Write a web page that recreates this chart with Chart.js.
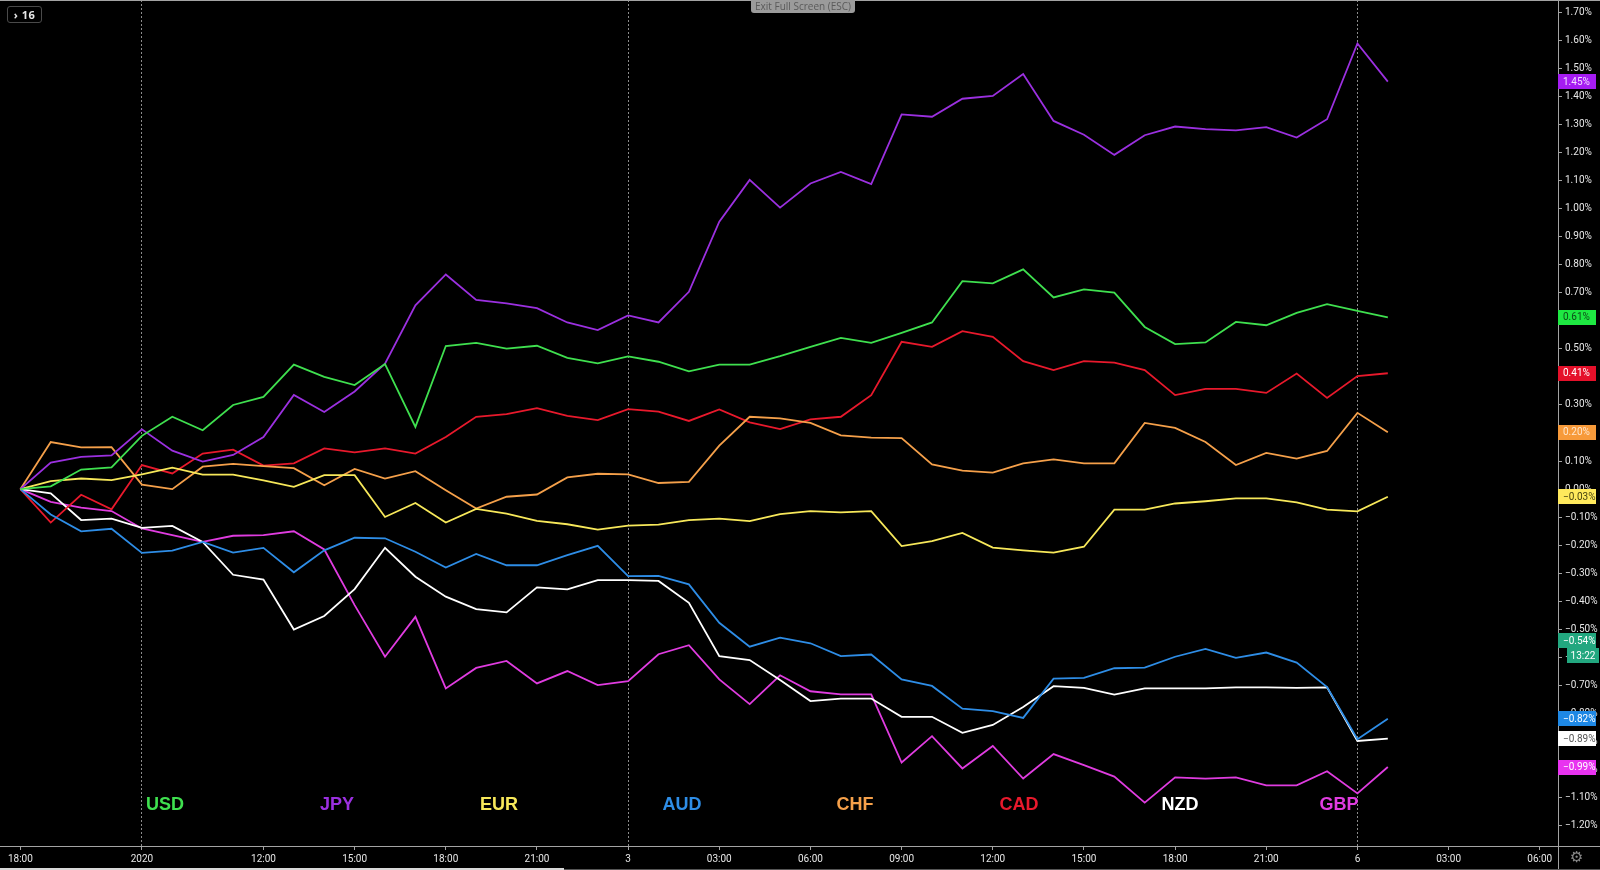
<!DOCTYPE html>
<html>
<head>
<meta charset="utf-8">
<title>Currency strength</title>
<script src="https://cdn.jsdelivr.net/npm/chart.js@4.4.0/dist/chart.umd.min.js"></script>
<style>
  html, body { margin: 0; padding: 0; background: #000; }
  #wrap { position: relative; width: 1600px; height: 870px; overflow: hidden; background: #000; }
  #chart { position: absolute; left: 0; top: 0; width: 1600px; height: 870px; }
  .ccy { position: absolute; top: 794px; transform: translateX(-50%); font: bold 18px 'Liberation Sans', Arial, sans-serif; white-space: nowrap; }
  #intervals { position: absolute; left: 7px; top: 6px; width: 33px; height: 15px; border: 1px solid #4a4a4a; border-radius: 3px;
               color: #e8e8e8; font: bold 11px 'Open Sans', sans-serif; line-height: 15px; text-align: center; letter-spacing: 0.5px; }
  #exitFs { position: absolute; left: 751px; top: 0; width: 104px; height: 13px; background: #9b9b9b; border-radius: 0 0 3px 3px;
            color: #5a5a5a; font: 10px 'Open Sans', sans-serif; line-height: 13px; text-align: center; }
  #gear { position: absolute; left: 1570px; top: 848px; color: #8a8a8a; font: 15px 'DejaVu Sans', sans-serif; }
  #scrollA { position: absolute; left: 0; top: 868px; width: 564px; height: 2px; background: #d8d8d8; }
  #scrollB { position: absolute; left: 564px; top: 869px; width: 1036px; height: 1px; background: #555; }
</style>
</head>
<body>
<div id="wrap">
  <canvas id="chart" width="1600" height="870"></canvas>
  <div id="intervals">&#8250; 16</div>
  <div id="exitFs">Exit Full Screen (ESC)</div>
  <div class="ccy" style="left:165px;color:#3fe04f">USD</div>
  <div class="ccy" style="left:337px;color:#9b30e0">JPY</div>
  <div class="ccy" style="left:499px;color:#f7e85a">EUR</div>
  <div class="ccy" style="left:682px;color:#2e8de6">AUD</div>
  <div class="ccy" style="left:855px;color:#f5a04a">CHF</div>
  <div class="ccy" style="left:1019px;color:#e8192c">CAD</div>
  <div class="ccy" style="left:1180px;color:#ffffff">NZD</div>
  <div class="ccy" style="left:1339px;color:#e03ce0">GBP</div>
  <div id="gear">&#9881;</div>
  <div id="scrollA"></div>
  <div id="scrollB"></div>
</div>

<script>
// 통화별 % 변화 (시간봉, 0 = 시작점)
const currencies = ['USD', 'JPY', 'EUR', 'AUD', 'CHF', 'CAD', 'NZD', 'GBP'];

const usd = [0, 0.01, 0.07, 0.078, 0.19, 0.258, 0.21, 0.30, 0.329, 0.444, 0.40, 0.371, 0.446, 0.222, 0.51, 0.521,
             0.501, 0.511, 0.468, 0.448, 0.473, 0.454, 0.42, 0.444, 0.444, 0.474, 0.507, 0.539, 0.521, 0.557, 0.594,
             0.741, 0.733, 0.783, 0.683, 0.712, 0.70, 0.578, 0.517, 0.523, 0.596, 0.584, 0.628, 0.659, 0.635, 0.612];
const jpy = [0, 0.095, 0.115, 0.12, 0.213, 0.137, 0.098, 0.122, 0.186, 0.336, 0.275, 0.348, 0.447, 0.655, 0.765, 0.674,
             0.662, 0.645, 0.594, 0.567, 0.619, 0.594, 0.703, 0.953, 1.102, 1.003, 1.089, 1.13, 1.087, 1.335, 1.327,
             1.391, 1.401, 1.479, 1.312, 1.263, 1.191, 1.261, 1.292, 1.283, 1.278, 1.29, 1.253, 1.318, 1.588, 1.452];
const eur = [0, 0.029, 0.038, 0.032, 0.053, 0.077, 0.052, 0.052, 0.031, 0.008, 0.05, 0.05, -0.099, -0.049, -0.119, -0.07,
             -0.087, -0.113, -0.125, -0.144, -0.13, -0.126, -0.11, -0.105, -0.114, -0.089, -0.078, -0.083, -0.078, -0.203, -0.185,
             -0.156, -0.208, -0.218, -0.226, -0.205, -0.073, -0.073, -0.051, -0.043, -0.033, -0.033, -0.047, -0.073, -0.079, -0.027];
const aud = [0, -0.09, -0.15, -0.141, -0.227, -0.219, -0.188, -0.226, -0.209, -0.296, -0.218, -0.173, -0.175, -0.223, -0.279, -0.231,
             -0.271, -0.271, -0.235, -0.202, -0.31, -0.309, -0.339, -0.476, -0.561, -0.529, -0.549, -0.595, -0.589, -0.678, -0.701,
             -0.782, -0.791, -0.815, -0.675, -0.672, -0.638, -0.636, -0.597, -0.569, -0.601, -0.582, -0.618, -0.705, -0.891, -0.818];
const chf = [0, 0.168, 0.149, 0.15, 0.016, 0.0, 0.08, 0.09, 0.082, 0.075, 0.014, 0.072, 0.038, 0.064, -0.004, -0.069,
             -0.027, -0.019, 0.042, 0.055, 0.053, 0.022, 0.026, 0.155, 0.258, 0.252, 0.236, 0.192, 0.184, 0.182, 0.088,
             0.066, 0.059, 0.092, 0.106, 0.092, 0.092, 0.236, 0.218, 0.168, 0.086, 0.129, 0.109, 0.136, 0.272, 0.203];
const cad = [0, -0.119, -0.02, -0.072, 0.086, 0.056, 0.127, 0.141, 0.084, 0.092, 0.145, 0.131, 0.145, 0.127, 0.186, 0.258,
             0.267, 0.289, 0.261, 0.246, 0.285, 0.276, 0.243, 0.284, 0.238, 0.214, 0.249, 0.258, 0.335, 0.525, 0.507,
             0.563, 0.543, 0.456, 0.424, 0.456, 0.451, 0.424, 0.335, 0.357, 0.357, 0.343, 0.412, 0.325, 0.403, 0.413];
const nzd = [0, -0.015, -0.11, -0.105, -0.138, -0.131, -0.188, -0.305, -0.322, -0.5, -0.452, -0.356, -0.209, -0.312, -0.383, -0.427,
             -0.439, -0.35, -0.357, -0.324, -0.324, -0.327, -0.405, -0.595, -0.609, -0.68, -0.755, -0.746, -0.746, -0.811, -0.811,
             -0.868, -0.84, -0.776, -0.702, -0.708, -0.732, -0.71, -0.71, -0.71, -0.706, -0.706, -0.708, -0.706, -0.897, -0.889];
const gbp = [0, -0.045, -0.066, -0.078, -0.14, -0.164, -0.188, -0.166, -0.164, -0.15, -0.215, -0.413, -0.597, -0.455, -0.71, -0.637,
             -0.612, -0.692, -0.648, -0.698, -0.684, -0.588, -0.556, -0.678, -0.766, -0.663, -0.72, -0.731, -0.731, -0.974, -0.88,
             -0.995, -0.915, -1.031, -0.944, -0.983, -1.024, -1.117, -1.027, -1.031, -1.027, -1.055, -1.055, -1.005, -1.084, -0.99];

// x축 눈금 (봉 인덱스 / 표시 문자)
const xTickPos  = [0, 4, 8, 11, 14, 17, 20, 23, 26, 29, 32, 35, 38, 41, 44, 47, 50];
const xTickText = ['18:00', '2020', '12:00', '15:00', '18:00', '21:00', '3', '03:00', '06:00', '09:00',
                   '12:00', '15:00', '18:00', '21:00', '6', '03:00', '06:00'];
const dayBreaks = [4, 20, 44];

// y축 눈금 (%)
const yTicks = [-1.2, -1.1, -1.0, -0.9, -0.8, -0.7, -0.6, -0.5, -0.4, -0.3, -0.2, -0.1, 0,
                0.1, 0.2, 0.3, 0.4, 0.5, 0.6, 0.7, 0.8, 0.9, 1.0, 1.1, 1.2, 1.3, 1.4, 1.5, 1.6, 1.7];

// 메인 심볼 현재가 / 카운트다운
const mainLast = -0.54;
const mainCountdown = '13:22';

const seriesMap = { USD: usd, JPY: jpy, EUR: eur, AUD: aud, CHF: chf, CAD: cad, NZD: nzd, GBP: gbp };

const lineColors = {
    USD: '#3fe04f', JPY: '#9b30e0', EUR: '#f7e85a', AUD: '#2e8de6',
    CHF: '#f5a04a', CAD: '#e8192c', NZD: '#ffffff', GBP: '#e03ce0'
};
const boxColors = {
    USD: '#1ee842', JPY: '#a51cf2', EUR: '#ffe95c', AUD: '#1e88e5',
    CHF: '#f79a3a', CAD: '#e5102a', NZD: '#ffffff', GBP: '#e833f0'
};
const boxTextColors = {
    USD: '#0d4a17', JPY: '#f4dcff', EUR: '#4a4410', AUD: '#ffffff',
    CHF: '#ffe6cc', CAD: '#ffffff', NZD: '#555555', GBP: '#ffffff'
};

const AXIS_COLOR = '#a3a3a3';
const TICK_FONT = { family: 'Roboto, sans-serif', size: 10 };

function fmtPct(v) {
    const r = Math.round(v * 100) / 100;
    return (r < 0 ? '\u2212' : '') + Math.abs(r).toFixed(2) + '%';
}

function drawBox(ctx, x, y, w, bg, fg, text, center) {
    const h = 15;
    ctx.fillStyle = bg;
    ctx.fillRect(x, Math.round(y - h / 2), w, h);
    ctx.fillStyle = fg;
    ctx.textAlign = center ? 'center' : 'left';
    ctx.fillText(text, center ? x + w / 2 : x + 5, Math.round(y) + 0.5);
}

// 축 테두리 + 오른쪽 가격 라벨
const priceBoxes = {
    id: 'priceBoxes',
    afterDraw(chart) {
        const { ctx, chartArea } = chart;
        const yScale = chart.scales.y;
        ctx.save();
        ctx.strokeStyle = AXIS_COLOR;
        ctx.lineWidth = 1;
        ctx.beginPath();
        ctx.moveTo(0, 0.5); ctx.lineTo(chart.width, 0.5);
        ctx.moveTo(chartArea.right + 0.5, 0); ctx.lineTo(chartArea.right + 0.5, chart.height);
        ctx.moveTo(0, chartArea.bottom + 0.5); ctx.lineTo(chart.width, chartArea.bottom + 0.5);
        ctx.stroke();

        ctx.font = '10px Roboto, sans-serif';
        ctx.textBaseline = 'middle';
        const bx = chartArea.right;

        const mainY = yScale.getPixelForValue(mainLast);
        drawBox(ctx, bx, mainY, 38, '#22a77f', '#ffffff', fmtPct(mainLast), false);
        drawBox(ctx, bx + 9, mainY + 15, 32, '#22a77f', '#ffffff', mainCountdown, true);

        currencies.forEach(c => {
            const data = seriesMap[c];
            const last = data[data.length - 1];
            drawBox(ctx, bx, yScale.getPixelForValue(last), 38, boxColors[c], boxTextColors[c], fmtPct(last), false);
        });
        ctx.restore();
    }
};

function buildDatasets() {
    return currencies.map(c => ({
        label: c,
        data: seriesMap[c].map((v, i) => ({ x: i, y: v })),
        borderColor: lineColors[c],
        borderWidth: 1.8,
        pointRadius: 0,
        tension: 0,
        fill: false
    }));
}

// 축 라벨 때문에 생기는 여백 제거
function noPad(scale) {
    scale.paddingTop = 0;
    scale.paddingBottom = 0;
    scale.paddingLeft = 0;
    scale.paddingRight = 0;
}

new Chart(document.getElementById('chart'), {
    type: 'line',
    data: { datasets: buildDatasets() },
    options: {
        responsive: false,
        animation: false,
        devicePixelRatio: 1,
        layout: { padding: 0 },
        plugins: {
            legend: { display: false },
            tooltip: { enabled: false }
        },
        scales: {
            x: {
                type: 'linear',
                min: -0.67,
                max: 50.6,
                afterFit(scale) { scale.height = 24; noPad(scale); },
                afterBuildTicks(scale) { scale.ticks = xTickPos.map(v => ({ value: v })); },
                ticks: {
                    autoSkip: false,
                    maxRotation: 0,
                    padding: 3,
                    color: '#e6e6e6',
                    font: TICK_FONT,
                    callback: (v) => xTickText[xTickPos.indexOf(v)]
                },
                grid: {
                    drawOnChartArea: true,
                    tickLength: 4,
                    tickColor: AXIS_COLOR,
                    lineWidth: 1,
                    color: (ctx) => (ctx.tick && dayBreaks.includes(ctx.tick.value)) ? '#8c8c8c' : 'rgba(0,0,0,0)'
                },
                border: { display: false, dash: [2, 2] }
            },
            y: {
                type: 'linear',
                position: 'right',
                min: -1.2713,
                max: 1.7428,
                afterFit(scale) { scale.width = 42; noPad(scale); },
                afterBuildTicks(scale) { scale.ticks = yTicks.map(v => ({ value: v })); },
                ticks: {
                    autoSkip: false,
                    padding: 3,
                    color: '#e6e6e6',
                    font: TICK_FONT,
                    callback: (v) => fmtPct(v)
                },
                grid: {
                    drawOnChartArea: false,
                    tickLength: 4,
                    tickColor: AXIS_COLOR
                },
                border: { display: false }
            }
        }
    },
    plugins: [priceBoxes]
});
</script>
</body>
</html>
